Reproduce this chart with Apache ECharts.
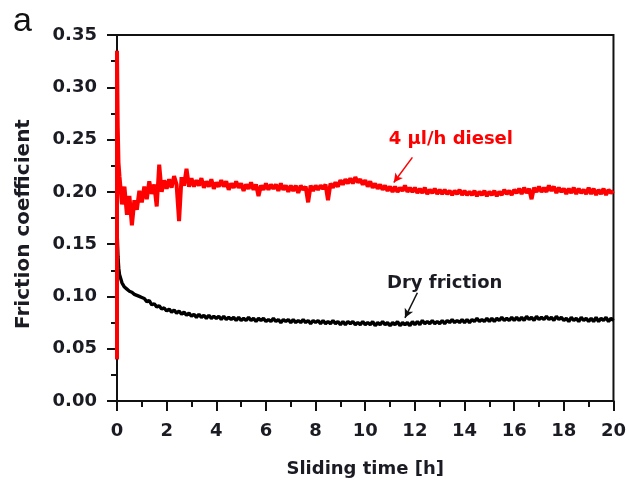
<!DOCTYPE html>
<html><head><meta charset="utf-8">
<script src="https://cdn.jsdelivr.net/npm/echarts@6/dist/echarts.min.js"></script>
<style>html,body{margin:0;padding:0;background:#fff}#c{width:629px;height:484px}</style>
</head><body><div id="c"></div>
<script>
// ---- data ----
const xTicks = [0,2,4,6,8,10,12,14,16,18,20];
const yTicks = [0,0.05,0.10,0.15,0.20,0.25,0.30,0.35];
const sampleStart = 0.1, sampleStep = 0.1;   // regular sampling grid of the recorded traces (h)
// running-in points before the regular sampling grid [time h, value]
const dieselStart = [[0,0.04],[0,0.335],[0.03,0.262],[0.06,0.228]];
const dryStart = [[0,0.04],[0.01,0.158],[0.04,0.138],[0.07,0.127]];
const dieselValues = [
 0.215,0.188,0.205,0.178,0.196,0.168,0.192,0.183,0.201,0.190,
 0.205,0.193,0.210,0.198,0.207,0.186,0.226,0.200,0.211,0.203,
 0.212,0.204,0.215,0.207,0.172,0.214,0.206,0.222,0.205,0.213,
 0.205,0.211,0.206,0.213,0.204,0.210,0.205,0.212,0.203,0.209,
 0.205,0.211,0.205,0.210,0.202,0.208,0.204,0.210,0.204,0.208,
 0.201,0.207,0.203,0.209,0.202,0.207,0.196,0.206,0.202,0.208,
 0.202,0.207,0.203,0.207,0.201,0.208,0.202,0.206,0.200,0.206,
 0.201,0.206,0.199,0.206,0.202,0.205,0.190,0.206,0.201,0.206,
 0.202,0.206,0.203,0.207,0.192,0.208,0.204,0.209,0.205,0.211,
 0.207,0.212,0.208,0.213,0.208,0.214,0.209,0.212,0.207,0.211,
 0.205,0.210,0.204,0.208,0.203,0.207,0.202,0.206,0.201,0.205,
 0.200,0.205,0.200,0.204,0.201,0.206,0.200,0.204,0.200,0.204,
 0.199,0.203,0.199,0.204,0.198,0.202,0.199,0.203,0.198,0.202,
 0.198,0.202,0.198,0.201,0.197,0.201,0.198,0.202,0.197,0.201,
 0.197,0.200,0.197,0.201,0.196,0.200,0.197,0.201,0.196,0.200,
 0.197,0.201,0.196,0.200,0.197,0.202,0.198,0.201,0.197,0.202,
 0.199,0.203,0.198,0.204,0.199,0.203,0.193,0.204,0.200,0.205,
 0.200,0.204,0.200,0.206,0.201,0.205,0.199,0.204,0.200,0.203,
 0.198,0.203,0.199,0.204,0.198,0.203,0.199,0.202,0.198,0.204,
 0.198,0.203,0.197,0.202,0.198,0.203,0.197,0.202,0.199,0.201
];
const dryValues = [
 0.121,0.113,0.109,0.107,0.105,0.104,0.102,0.101,0.100,0.099,
 0.098,0.095,0.096,0.092,0.093,0.090,0.091,0.088,0.089,0.086,
 0.088,0.085,0.087,0.084,0.086,0.083,0.085,0.082,0.084,0.081,
 0.083,0.080,0.083,0.080,0.082,0.079,0.082,0.079,0.081,0.079,
 0.081,0.078,0.081,0.078,0.080,0.078,0.080,0.077,0.080,0.077,
 0.079,0.077,0.080,0.077,0.079,0.076,0.079,0.077,0.079,0.076,
 0.078,0.076,0.079,0.076,0.078,0.075,0.078,0.076,0.078,0.075,
 0.078,0.075,0.077,0.075,0.078,0.075,0.077,0.074,0.077,0.075,
 0.077,0.074,0.077,0.074,0.076,0.074,0.077,0.074,0.076,0.073,
 0.076,0.073,0.076,0.074,0.076,0.073,0.075,0.073,0.076,0.073,
 0.075,0.073,0.076,0.072,0.075,0.073,0.076,0.073,0.075,0.072,
 0.075,0.073,0.076,0.072,0.075,0.073,0.075,0.072,0.076,0.073,
 0.076,0.073,0.077,0.074,0.076,0.074,0.077,0.074,0.076,0.074,
 0.077,0.074,0.077,0.075,0.078,0.075,0.077,0.075,0.078,0.075,
 0.078,0.075,0.078,0.076,0.079,0.076,0.078,0.076,0.079,0.076,
 0.079,0.076,0.079,0.077,0.080,0.077,0.079,0.077,0.080,0.077,
 0.080,0.077,0.080,0.077,0.081,0.078,0.080,0.077,0.081,0.078,
 0.080,0.078,0.081,0.078,0.080,0.077,0.081,0.078,0.080,0.077,
 0.079,0.076,0.080,0.077,0.079,0.076,0.080,0.077,0.079,0.076,
 0.079,0.076,0.080,0.076,0.079,0.077,0.080,0.076,0.079,0.077
];
const labels = {diesel:'4 µl/h diesel', dry:'Dry friction'};
const xName = 'Sliding time [h]', yName = 'Friction coefficient', panel = 'a';
// annotation anchors in data units [time, value]
const dieselLabelAt = [13.45, 0.2505], dieselArrow = [[11.9,0.233],[11.15,0.209]];
const dryLabelAt = [13.2, 0.1125], dryArrow = [[12.1,0.1035],[11.6,0.0795]];

function toPairs(start, vals){
  const out = start.slice();
  vals.forEach((v,i)=>out.push([+(sampleStart + i*sampleStep).toFixed(2), v]));
  return out;
}

const FONT = '"DejaVu Sans", "Liberation Sans", Arial, sans-serif';
const txt = '#1b1b24';
const chart = echarts.init(document.getElementById('c'), null, {renderer:'canvas'});
const axisLine = {show:true, onZero:false, lineStyle:{color:'#111', width:2}};
const tickStyle = {color:'#111', width:2};
chart.setOption({
  animation:false,
  backgroundColor:'#fff',
  grid:{left:117, right:14, top:35, bottom:83, show:true, borderColor:'#111', borderWidth:2, backgroundColor:'transparent'},
  xAxis:{type:'value', min:0, max:20, interval:2,
    name:xName, nameLocation:'middle', nameGap:59,
    nameTextStyle:{fontFamily:FONT, fontWeight:'bold', fontSize:18, color:txt},
    axisLine, axisTick:{show:true, inside:false, length:10, lineStyle:tickStyle},
    minorTick:{show:true, splitNumber:2, length:6, lineStyle:tickStyle},
    splitLine:{show:false},
    axisLabel:{fontFamily:FONT, fontWeight:'bold', fontSize:18, color:txt, margin:21,
      formatter:v=> xTicks.includes(v)? String(v):''}},
  yAxis:{type:'value', min:0, max:0.35, interval:0.05,
    name:yName, nameLocation:'middle', nameGap:83, nameRotate:90,
    nameTextStyle:{fontFamily:FONT, fontWeight:'bold', fontSize:20, color:txt, padding:[0,12,0,0]},
    axisLine, axisTick:{show:true, inside:false, length:10, lineStyle:tickStyle},
    minorTick:{show:true, splitNumber:2, length:6, lineStyle:tickStyle},
    splitLine:{show:false},
    axisLabel:{fontFamily:FONT, fontWeight:'bold', fontSize:18, color:txt, margin:20,
      formatter:v=>{const t=yTicks.find(k=>Math.abs(k-v)<1e-9); return t===undefined?'':t.toFixed(2);}}},
  series:[
    {type:'line', name:labels.dry, data:toPairs(dryStart, dryValues), symbol:'none', z:2,
     lineStyle:{color:'#000', width:3.4},
     markLine:{silent:true, symbol:['none','arrow'], symbolSize:[7,9],
       lineStyle:{color:'#111', width:1.5, type:'solid'}, label:{show:false},
       data:[[{coord:dryArrow[0]},{coord:dryArrow[1]}]]},
     markPoint:{silent:true, symbol:'circle', symbolSize:0,
       label:{show:true, position:'inside', formatter:labels.dry, fontFamily:FONT, fontWeight:'bold', fontSize:18, color:txt},
       data:[{coord:dryLabelAt}]}},
    {type:'line', name:labels.diesel, data:toPairs(dieselStart, dieselValues), symbol:'none', z:3,
     lineStyle:{color:'#ff0000', width:4},
     markLine:{silent:true, symbol:['none','arrow'], symbolSize:[7,9],
       lineStyle:{color:'#ff0000', width:1.5, type:'solid'}, label:{show:false},
       data:[[{coord:dieselArrow[0]},{coord:dieselArrow[1]}]]},
     markPoint:{silent:true, symbol:'circle', symbolSize:0,
       label:{show:true, position:'inside', formatter:labels.diesel, fontFamily:FONT, fontWeight:'bold', fontSize:18, color:'#ff0000'},
       data:[{coord:dieselLabelAt}]}}
  ],
  graphic:[{type:'text', left:13, top:5, style:{text:panel, font:'34px "Liberation Sans", Arial, sans-serif', fill:'#111'}}]
});
</script></body></html>
